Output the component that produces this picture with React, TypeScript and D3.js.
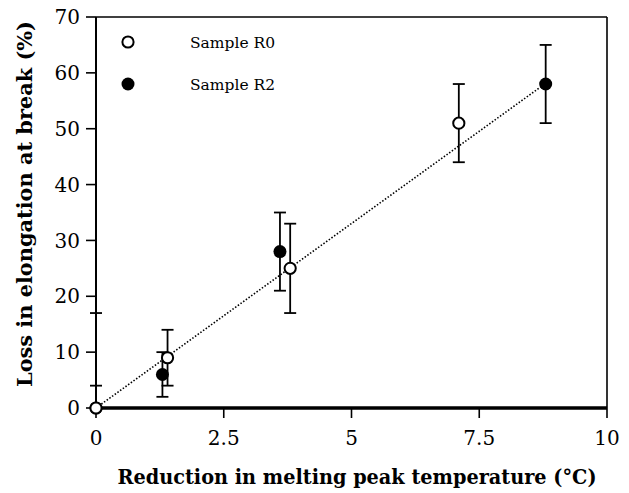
import React from "react";
import * as d3 from "d3";

const r0X = [0, 1.4, 3.8, 7.1];
const r0Y = [0, 9, 25, 51];
const r0Lo = [0, 4, 17, 44];
const r0Hi = [4, 14, 33, 58];

const r2X = [0, 1.3, 3.6, 8.8];
const r2Y = [0, 6, 28, 58];
const r2Lo = [0, 2, 21, 51];
const r2Hi = [17, 10, 35, 65];

const trendX = [0, 8.75];
const trendY = [0, 57.8];

const xTicks = [0, 2.5, 5, 7.5, 10];
const yTicks = [0, 10, 20, 30, 40, 50, 60, 70];
const legendLabels = ["Sample R0", "Sample R2"];

const W = 629, H = 493;
const L = 96, R = 607, T = 17, B = 408;
const serif = "'DejaVu Serif', 'Liberation Serif', serif";

export default function App() {
  const x = d3.scaleLinear().domain([0, 10]).range([L, R]);
  const y = d3.scaleLinear().domain([0, 70]).range([B, T]);
  const line = d3.line<number>().x((_, i) => x(trendX[i])).y((_, i) => y(trendY[i]));
  const cap = 6;

  const errBars = (xs: number[], lo: number[], hi: number[], key: string) =>
    xs.map((xv, i) => (
      <g key={key + i} stroke="#000" strokeWidth={1.8}>
        <line x1={x(xv)} x2={x(xv)} y1={y(lo[i])} y2={y(hi[i])} />
        <line x1={x(xv) - cap} x2={x(xv) + cap} y1={y(hi[i])} y2={y(hi[i])} />
        {lo[i] > 0 && <line x1={x(xv) - cap} x2={x(xv) + cap} y1={y(lo[i])} y2={y(lo[i])} />}
      </g>
    ));

  return (
    <svg width={W} height={H} style={{ position: "absolute", left: 0, top: 0, background: "#fff" }}>
      <rect x={0} y={0} width={W} height={H} fill="#fff" />
      {/* frame */}
      <line x1={L} x2={R} y1={T} y2={T} stroke="#000" strokeWidth={1.6} />
      <line x1={R} x2={R} y1={T} y2={B} stroke="#000" strokeWidth={1.6} />
      <line x1={L} x2={L} y1={T} y2={B} stroke="#000" strokeWidth={2} />
      <line x1={L - 1} x2={R} y1={B} y2={B} stroke="#000" strokeWidth={3.5} />
      {yTicks.map((t) => (
        <g key={"yt" + t}>
          <line x1={L - 10} x2={L} y1={y(t)} y2={y(t)} stroke="#000" strokeWidth={1.6} />
          <text x={L - 16} y={y(t)} dy="0.36em" textAnchor="end" fontFamily={serif} fontSize={20}>{t}</text>
        </g>
      ))}
      {xTicks.map((t) => (
        <g key={"xt" + t}>
          <line x1={x(t)} x2={x(t)} y1={B} y2={B + 10} stroke="#000" strokeWidth={1.6} />
          <text x={x(t)} y={B + 37} textAnchor="middle" fontFamily={serif} fontSize={20}>{t}</text>
        </g>
      ))}
      <path d={line(trendX) || ""} fill="none" stroke="#000" strokeWidth={1.6} strokeDasharray="1.5,1.8" />
      {errBars(r2X, r2Lo, r2Hi, "e2")}
      {errBars(r0X, r0Lo, r0Hi, "e0")}
      {r2X.map((xv, i) => (
        <circle key={"p2" + i} cx={x(xv)} cy={y(r2Y[i])} r={6.5} fill="#000" />
      ))}
      {r0X.map((xv, i) => (
        <circle key={"p0" + i} cx={x(xv)} cy={y(r0Y[i])} r={5.6} fill="#fff" stroke="#000" strokeWidth={2} />
      ))}
      {/* legend */}
      <circle cx={128} cy={42} r={5.6} fill="#fff" stroke="#000" strokeWidth={2} />
      <circle cx={128} cy={84} r={6.5} fill="#000" />
      <text x={190} y={48} fontFamily={serif} fontSize={15.5}>{legendLabels[0]}</text>
      <text x={190} y={90} fontFamily={serif} fontSize={15.5}>{legendLabels[1]}</text>
      {/* titles */}
      <text x={357} y={484} textAnchor="middle" fontFamily={serif} fontWeight="bold" fontSize={20}
        textLength={479} lengthAdjust="spacingAndGlyphs">Reduction in melting peak temperature (°C)</text>
      <text transform={`translate(32,204) rotate(-90)`} textAnchor="middle" fontFamily={serif} fontWeight="bold" fontSize={20}
        textLength={366} lengthAdjust="spacingAndGlyphs">Loss in elongation at break (%)</text>
    </svg>
  );
}
